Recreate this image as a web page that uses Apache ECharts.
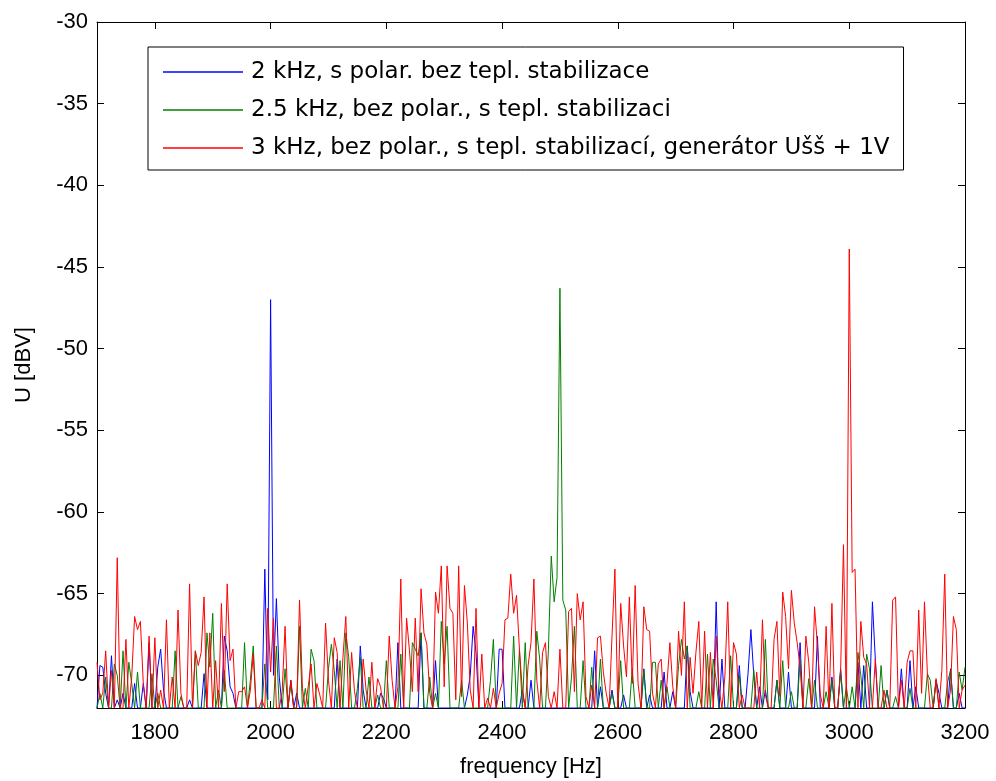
<!DOCTYPE html>
<html>
<head>
<meta charset="utf-8">
<script src="https://cdn.jsdelivr.net/npm/echarts@6/dist/echarts.min.js"></script>
<style>
html,body{margin:0;padding:0;background:#fff;}
#chart{width:996px;height:781px;}
</style>
</head>
<body>
<div id="chart"></div>
<script>
// ---- data ----
const FREQ_START = 1700;   // Hz, first spectrum bin
const FREQ_STEP = 5;       // Hz between bins
const X_TICKS = [1800, 2000, 2200, 2400, 2600, 2800, 3000, 3200];
const Y_TICKS = [-70, -65, -60, -55, -50, -45, -40, -35, -30];
const SERIES_NAMES = [
  '2 kHz, s polar. bez tepl. stabilizace',
  '2.5 kHz, bez polar., s tepl. stabilizaci',
  '3 kHz, bez polar., s tepl. stabilizací, generátor Ušš + 1V'
];
const BLUE_DBV = [
  -72, -69.4, -69.5, -71.1, -72, -68.8, -72, -71.5, -72, -71.1,
  -72, -72, -72, -70.5, -72, -72, -70.5, -72, -68.0, -72,
  -72, -69.5, -68.4, -70.9, -72, -72, -72, -72, -72, -72,
  -72, -72, -71.5, -72, -72, -72, -72, -69.9, -72, -72,
  -72, -72, -72, -72, -67.6, -68.5, -70.7, -71.1, -72, -72,
  -72, -72, -72, -72, -72, -72, -72, -72, -63.5, -71.5,
  -47.0, -70, -65.3, -70.1, -72, -72, -72, -70.3, -72, -71.1,
  -72, -72, -72, -72, -72, -72, -72, -72, -72, -72,
  -72, -72, -72, -69.0, -72, -72, -72, -72, -72, -72,
  -72, -68.2, -70.9, -72, -72, -72, -72, -72, -71.1, -71.4,
  -72, -72, -72, -72, -68.0, -72, -72, -72, -72, -72,
  -72, -72, -67.4, -72, -72, -72, -72, -69.1, -72, -72,
  -72, -72, -72, -72, -72, -72, -72, -72, -71.2, -70.0,
  -67.0, -68.6, -72, -72, -72, -72, -72, -72, -72, -68.4,
  -68.4, -72, -72, -72, -72, -72, -72, -70.9, -72, -72,
  -70.3, -72, -72, -72, -72, -72, -72, -72, -72, -72,
  -72, -72, -72, -72, -72, -72, -72, -72, -72, -72,
  -72, -72, -68.5, -72, -70.7, -72, -72, -72, -70.9, -72,
  -72, -72, -71.2, -72, -72, -72, -72, -72, -72, -69.6,
  -72, -71.2, -72, -72, -72, -72, -69.8, -72, -72, -71.0,
  -72, -72, -72, -72, -68.2, -71.0, -72, -72, -72, -72,
  -72, -72, -72, -72, -65.5, -72, -69.0, -72, -72, -72,
  -72, -72, -69.4, -72, -72, -69.9, -67.2, -70.0, -72, -70.7,
  -72, -70.9, -72, -72, -72, -70.3, -72, -72, -72, -69.8,
  -72, -72, -72, -68.0, -72, -72, -72, -72, -72, -67.6,
  -72, -72, -72, -72, -70.1, -72, -72, -69.6, -72, -72,
  -72, -72, -72, -69.2, -72, -69.4, -72, -72, -65.5, -69.0,
  -72, -72, -72, -70.9, -72, -72, -72, -72, -69.6, -72,
  -72, -69.1, -72, -70.7, -72, -72, -72, -72, -72, -72,
  -70.3, -71.1, -72, -72, -72, -69.6, -72, -72, -71.1, -72,
  -72
];
const GREEN_DBV = [
  -72, -71.1, -72, -70.1, -72, -72, -69.3, -70.0, -72, -68.5,
  -72, -69.2, -70.5, -72, -69.8, -72, -72, -72, -72, -69.9,
  -72, -71.1, -72, -72, -72, -72, -72, -68.5, -72, -71.3,
  -72, -72, -72, -72, -68.5, -72, -72, -72, -67.4, -69.5,
  -66.2, -72, -70.9, -72, -69.7, -72, -72, -72, -72, -72,
  -72, -68.0, -72, -70.3, -68.2, -72, -72, -72, -69.3, -72,
  -72, -72, -68.2, -72, -72, -69.6, -72, -70.5, -72, -72,
  -67.0, -72, -70.8, -72, -68.4, -69.1, -72, -72, -72, -72,
  -69.6, -68.1, -69.7, -72, -69.1, -72, -67.4, -68.9, -72, -72,
  -70.8, -68.9, -72, -72, -70.1, -72, -72, -71.2, -72, -72,
  -69.1, -72, -72, -72, -72, -68.7, -72, -72, -72, -68.0,
  -68.4, -68.8, -67.4, -72, -72, -70.1, -72, -71.1, -72, -66.7,
  -69.3, -67.0, -72, -72, -72, -72, -70.3, -72, -72, -72,
  -72, -72, -72, -72, -72, -72, -70.3, -67.8, -72, -72,
  -72, -72, -72, -72, -67.6, -72, -68.4, -72, -68.0, -72,
  -72, -72, -67.3, -69.0, -72, -72, -68.5, -62.7, -65.5, -64.0,
  -46.3, -65.4, -66.0, -72, -70.1, -67.0, -72, -72, -69.1, -72,
  -72, -69.5, -72, -72, -69.0, -72, -72, -72, -71.1, -72,
  -72, -69.1, -72, -72, -72, -69.6, -72, -72, -72, -69.7,
  -72, -72, -69.2, -69.2, -72, -70.3, -72, -70.7, -72, -72,
  -72, -69.4, -67.8, -69.0, -68.2, -72, -72, -72, -71.0, -72,
  -72, -68.7, -72, -69.0, -70.3, -72, -72, -72, -72, -68.8,
  -72, -72, -70.0, -72, -72, -72, -72, -69.7, -72, -72,
  -72, -67.8, -72, -72, -72, -70.3, -72, -69.1, -72, -72,
  -71.0, -72, -72, -69.0, -72, -72, -70.2, -72, -70.3, -72,
  -72, -72, -71.0, -72, -70.3, -72, -72, -69.7, -72, -70.7,
  -72, -70.7, -72, -68.6, -70.0, -72, -68.7, -69.6, -72, -72,
  -72, -69.4, -72, -70.9, -72, -72, -71.3, -72, -72, -72,
  -72, -70.8, -72, -72, -72, -72, -72, -69.9, -70.3, -72,
  -70.3, -72, -72, -72, -70.4, -69.7, -72, -72, -69.8, -70.9,
  -69.5
];
const RED_DBV = [
  -69.2, -71.5, -71.1, -68.5, -72, -69.7, -72, -62.8, -72, -72,
  -67.8, -72, -70.1, -66.4, -67.2, -66.7, -70.5, -72, -67.6, -72,
  -67.7, -72, -70.9, -72, -66.6, -72, -70.1, -72, -66.0, -71.1,
  -72, -72, -64.4, -72, -68.5, -69.4, -68.6, -65.2, -72, -67.4,
  -72, -69.1, -72, -65.6, -71.0, -64.4, -69.1, -68.4, -72, -71.0,
  -71.0, -70.7, -72, -70.9, -68.7, -72, -72, -71.5, -72, -65.9,
  -69.8, -66.5, -72, -72, -71.0, -67.0, -72, -70.3, -72, -72,
  -65.4, -70.8, -72, -70.7, -69.3, -72, -70.5, -71.2, -72, -66.8,
  -70.3, -72, -67.7, -68.6, -72, -68.9, -66.4, -72, -68.6, -71.0,
  -72, -72, -69.0, -70.9, -72, -69.2, -72, -70.2, -70.7, -72,
  -72, -67.6, -70.3, -72, -70.7, -64.1, -72, -66.5, -68.5, -71.0,
  -66.5, -71.0, -64.7, -67.4, -68.1, -71.1, -72, -64.9, -66.2, -63.3,
  -70.7, -63.3, -65.9, -66.2, -71.5, -63.3, -71.3, -64.5, -66.8, -70.9,
  -72, -65.9, -72, -68.7, -72, -71.4, -72, -70.8, -72, -71.1,
  -70.5, -66.6, -66.5, -63.8, -66.2, -65.1, -68.4, -70.9, -72, -69.4,
  -68.0, -64.1, -70.3, -72, -68.6, -68.0, -71.3, -72, -71.0, -72,
  -68.4, -72, -72, -66.1, -65.9, -71.0, -65.0, -66.6, -65.5, -71.3,
  -72, -70.6, -72, -67.7, -67.6, -69.8, -71.1, -72, -67.6, -63.5,
  -72, -65.6, -68.2, -70.1, -65.2, -70.5, -64.5, -70.5, -72, -65.8,
  -67.2, -67.3, -71.1, -72, -69.3, -69.0, -72, -70.5, -68.0, -70.7,
  -72, -67.3, -70.0, -65.5, -72, -68.9, -71.1, -68.6, -66.7, -72,
  -67.3, -72, -68.6, -72, -67.6, -70.8, -72, -70.1, -65.5, -72,
  -68.0, -68.7, -72, -71.2, -72, -72, -72, -72, -69.8, -72,
  -66.6, -71.2, -72, -72, -67.8, -66.7, -71.3, -64.9, -66.4, -69.6,
  -64.8, -66.8, -68.0, -69.5, -72, -67.6, -69.2, -72, -65.8, -68.2,
  -71.2, -72, -67.0, -72, -65.6, -72, -72, -69.8, -62.0, -72,
  -43.9, -63.7, -63.5, -72, -66.7, -68.9, -69.3, -72, -72, -69.0,
  -72, -72, -70.9, -72, -72, -65.4, -65.2, -72, -70.3, -72,
  -69.2, -68.5, -68.5, -72, -66.0, -71.1, -65.5, -69.9, -72, -72,
  -70.2, -72, -69.7, -63.8, -72, -70.9, -66.4, -67.2, -72, -70.9,
  -70.6
];
const SERIES_COLORS = ['#0000ff', '#008000', '#ff0000'];

// ---- chart ----
function toPairs(arr) {
  return arr.map(function (v, i) { return [FREQ_START + i * FREQ_STEP, v]; });
}
const FONT = 'Liberation Sans, Arial, sans-serif';
const chart = echarts.init(document.getElementById('chart'), null, {renderer: 'canvas'});
const axisLine = {show: true, onZero: false, lineStyle: {color: '#000', width: 1}};
const tick = function (vals) {
  return {show: true, inside: true, length: 7, customValues: vals, lineStyle: {color: '#000', width: 1}};
};
const plainNum = function (v) { return String(v); };
const option = {
  animation: false,
  backgroundColor: '#ffffff',
  textStyle: {fontFamily: FONT},
  grid: {left: 97, right: 31, top: 22, bottom: 73, containLabel: false, outerBoundsMode: 'none'},
  legend: {
    orient: 'vertical',
    left: 148,
    top: 47,
    backgroundColor: '#fff',
    borderColor: '#000',
    borderWidth: 1,
    padding: [13, 14, 10, 15],
    itemGap: 14,
    itemWidth: 80,
    itemHeight: 1.5,
    icon: 'rect',
    data: SERIES_NAMES,
    textStyle: {fontFamily: 'DejaVu Sans', fontSize: 23, color: '#000', lineHeight: 24, padding: [0, 0, 0, 3]}
  },
  xAxis: [
    {
      type: 'value', min: 1700, max: 3200, position: 'bottom',
      axisLine: axisLine, axisTick: tick(X_TICKS),
      axisLabel: {customValues: X_TICKS, formatter: plainNum, color: '#000', fontSize: 22, margin: 14, fontFamily: FONT},
      splitLine: {show: false},
      name: 'frequency [Hz]', nameLocation: 'middle', nameGap: 48,
      nameTextStyle: {fontSize: 22, color: '#000', fontFamily: FONT}
    },
    {
      type: 'value', min: 1700, max: 3200, position: 'top',
      axisLine: axisLine, axisTick: tick(X_TICKS),
      axisLabel: {show: false}, splitLine: {show: false}
    }
  ],
  yAxis: [
    {
      type: 'value', min: -72, max: -30, position: 'left',
      axisLine: axisLine, axisTick: tick(Y_TICKS),
      axisLabel: {customValues: Y_TICKS, formatter: plainNum, color: '#000', fontSize: 22, margin: 9, fontFamily: FONT},
      splitLine: {show: false},
      name: 'U [dBV]', nameLocation: 'middle', nameGap: 62,
      nameTextStyle: {fontSize: 22, color: '#000', fontFamily: FONT}
    },
    {
      type: 'value', min: -72, max: -30, position: 'right',
      axisLine: axisLine, axisTick: tick(Y_TICKS),
      axisLabel: {show: false}, splitLine: {show: false}
    }
  ],
  series: [BLUE_DBV, GREEN_DBV, RED_DBV].map(function (arr, k) {
    return {
      name: SERIES_NAMES[k],
      type: 'line',
      xAxisIndex: 0,
      yAxisIndex: 0,
      data: toPairs(arr),
      showSymbol: false,
      symbol: 'none',
      color: SERIES_COLORS[k],
      lineStyle: {color: SERIES_COLORS[k], width: 1},
      sampling: null,
      clip: true
    };
  })
};
chart.setOption(option);
</script>
</body>
</html>
